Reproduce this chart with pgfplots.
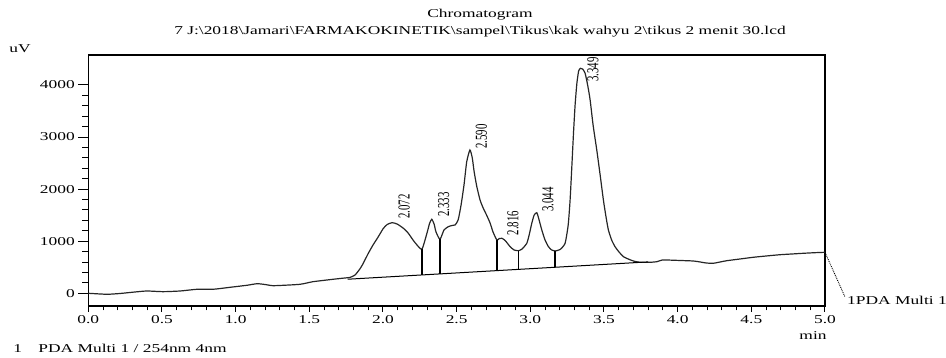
\documentclass[border=0pt]{standalone}
\usepackage{fontspec}
\usepackage{graphicx}
\usepackage{pgfplots}
\pgfplotsset{compat=1.18}
\setmainfont{Liberation Serif}[FakeStretch=1.45]
\newfontfamily\plainserif{Liberation Serif}
\newcommand{\tf}{\fontsize{12}{14}\selectfont}
\newcommand{\pk}[1]{\rotatebox{90}{\scalebox{1}[1.55]{\plainserif\fontsize{10.8}{12}\selectfont #1}}}
\begin{document}
\begin{tikzpicture}
\begin{axis}[
  name=ax, at={(0,0)}, anchor=south west,
  scale only axis, width=736.7pt, height=251pt,
  xmin=0, xmax=5, ymin=-244, ymax=4576,
  axis line style={black, line width=1.1pt},
  tick align=outside,
  xtick=\empty,
  ytick={0,1000,2000,3000,4000},
  ytick pos=left,
  minor y tick num=4,
  major tick length=10pt, minor tick length=6pt,
  every tick/.style={black, line width=1pt},
  yticklabel style={font=\tf, black},
  /pgf/number format/assume math mode=true,
  /pgf/number format/.cd, set thousands separator={},
  /pgfplots/.cd,
  clip=false,
]
\addplot[color=black!85, line width=1.2pt, smooth, tension=0.35] coordinates {
(0,0)(0.079,-13)(0.134,-19)(0.215,-4)(0.317,25)(0.398,44)(0.507,31)(0.623,44)
(0.738,77)(0.847,77)(0.962,115)(1.077,154)(1.145,184)(1.199,169)(1.254,146)
(1.370,160)(1.438,173)(1.484,198)(1.525,223)(1.661,269)(1.742,294)(1.776,305)
(1.810,350)(1.844,470)(1.865,570)(1.899,760)(1.933,930)(1.967,1080)(2.001,1240)
(2.028,1320)(2.062,1356)(2.096,1330)(2.136,1254)(2.170,1160)(2.204,1023)(2.231,927)
(2.265,850)(2.299,1160)(2.316,1340)(2.331,1421)(2.347,1330)(2.360,1177)(2.387,1037)
(2.414,1215)(2.444,1280)(2.469,1302)(2.489,1311)(2.510,1407)(2.530,1695)(2.550,2080)
(2.568,2520)(2.590,2752)(2.606,2600)(2.619,2330)(2.637,2047)(2.659,1791)(2.680,1638)
(2.703,1503)(2.727,1350)(2.747,1177)(2.773,1023)(2.789,1052)(2.807,1056)(2.829,1014)
(2.863,895)(2.890,831)(2.919,818)(2.944,850)(2.976,960)(2.992,1119)(3.010,1344)
(3.026,1503)(3.044,1548)(3.056,1446)(3.078,1215)(3.100,1023)(3.123,895)(3.145,831)
(3.167,812)(3.202,841)(3.236,960)(3.257,1311)(3.270,1791)(3.282,2444)(3.293,3072)
(3.304,3616)(3.316,4032)(3.328,4268)(3.340,4320)(3.355,4307)(3.372,4224)(3.389,4000)
(3.406,3712)(3.426,3232)(3.451,2752)(3.474,2271)(3.496,1791)(3.515,1446)(3.530,1215)
(3.552,1023)(3.575,895)(3.602,793)(3.632,703)(3.664,659)(3.700,620)(3.745,595)
(3.813,595)(3.859,607)(3.895,639)(3.929,639)(4.017,630)(4.107,620)(4.153,601)
(4.193,582)(4.241,576)(4.288,601)(4.334,626)(4.424,659)(4.512,691)(4.600,716)
(4.695,741)(4.777,755)(4.852,768)(4.933,780)(5.0,787)
};
% integration baseline
\addplot[black, line width=1pt] coordinates {(1.76,270)(3.80,603)};
% drop lines
\addplot[black, line width=1.3pt] coordinates {(2.265,353)(2.265,850)};
\addplot[black, line width=1.3pt] coordinates {(2.387,373)(2.387,1037)};
\addplot[black, line width=1.3pt] coordinates {(2.773,436)(2.773,1023)};
\addplot[black, line width=1.3pt] coordinates {(2.919,460)(2.919,818)};
\addplot[black, line width=1.3pt] coordinates {(3.167,500)(3.167,812)};
% peak labels
\node[anchor=south, inner sep=0pt, xshift=12pt] at (axis cs:2.062,1425) {\pk{2.072}};
\node[anchor=south, inner sep=0pt, xshift=12pt] at (axis cs:2.331,1465) {\pk{2.333}};
\node[anchor=south, inner sep=0pt, xshift=11.5pt] at (axis cs:2.590,2770) {\pk{2.590}};
\node[anchor=south, inner sep=0pt, xshift=11pt] at (axis cs:2.807,1110) {\pk{2.816}};
\node[anchor=south, inner sep=0pt, xshift=11pt] at (axis cs:3.044,1560) {\pk{3.044}};
\node[anchor=south, inner sep=0pt, xshift=12.5pt] at (axis cs:3.340,4057) {\pk{3.349}};
\end{axis}
\begin{axis}[
  at={(0,0)}, anchor=south west,
  scale only axis, width=736.7pt, height=251pt,
  xmin=0, xmax=5, ymin=-244, ymax=4576,
  axis x line*=bottom, axis y line=none,
  axis line style={black, line width=1.1pt, -},
  tick align=outside,
  xtick={0,0.5,...,5}, minor x tick num=4,
  xticklabels={0.0,0.5,1.0,1.5,2.0,2.5,3.0,3.5,4.0,4.5,5.0},
  major tick length=6pt, minor tick length=4.5pt,
  every tick/.style={black, line width=1pt},
  xticklabel style={font=\tf, black},
  /pgf/number format/assume math mode=true,
]
\end{axis}
\node[anchor=base, font=\tf] at (391.7pt,288pt) {Chromatogram};
\node[anchor=base, font=\tf] at (391.7pt,271pt) {7 J:\textbackslash 2018\textbackslash Jamari\textbackslash FARMAKOKINETIK\textbackslash sampel\textbackslash Tikus\textbackslash kak wahyu 2\textbackslash tikus 2 menit 30.lcd};
\node[anchor=base west, font=\tf, inner sep=0pt] at (-79pt,253pt) {uV};
\node[anchor=base, font=\tf] at (724.7pt,-34pt) {min};
\node[anchor=base west, font=\tf, inner sep=0pt] at (-75pt,-47pt) {1};
\node[anchor=base west, font=\tf, inner sep=0pt] at (-50pt,-47pt) {PDA Multi 1 / 254nm 4nm};
\draw[black, densely dotted, line width=0.9pt] (736.7pt,53.7pt) -- (756.7pt,9pt);
\node[anchor=base west, font=\tf, inner sep=0pt] at (758.7pt,1pt) {1PDA Multi 1};
\pgfresetboundingbox
\path[use as bounding box] (-88.3pt,-52pt) rectangle (857.7pt,306pt);
\end{tikzpicture}
\end{document}
